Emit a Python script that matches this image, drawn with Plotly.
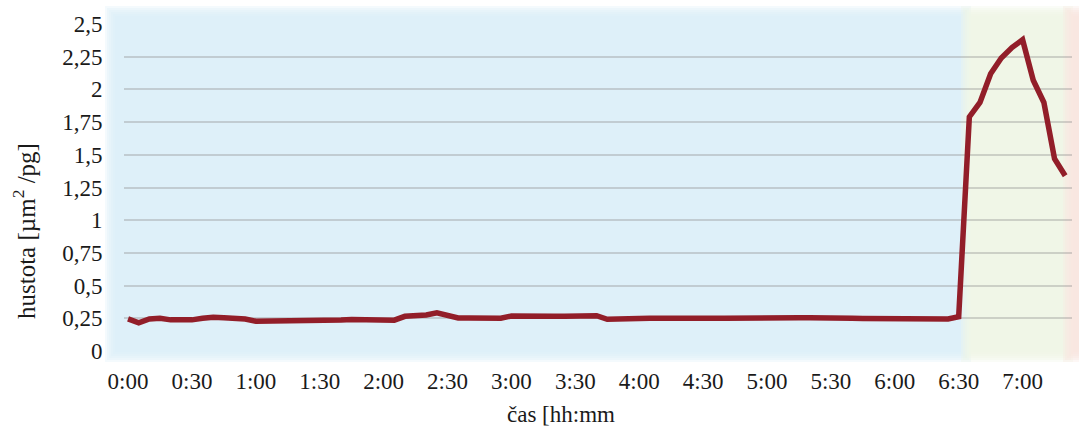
import plotly.graph_objects as go

# Sampling grid: one reading every 5 minutes from 0:00 to 7:20
minutes = list(range(0, 445, 5))

# Density readings [µm²/pg]
density = [
    0.245, 0.215, 0.245, 0.250, 0.238, 0.236, 0.238, 0.250, 0.258, 0.254,
    0.250, 0.245, 0.228, 0.228, 0.228, 0.230, 0.232, 0.235, 0.233, 0.238,
    0.237, 0.240, 0.240, 0.242, 0.242, 0.236, 0.265, 0.270, 0.276, 0.292,
    0.275, 0.252, 0.252, 0.252, 0.252, 0.250, 0.268, 0.270, 0.272, 0.270,
    0.266, 0.266, 0.266, 0.262, 0.270, 0.242, 0.246, 0.248, 0.250, 0.250,
    0.250, 0.248, 0.250, 0.250, 0.250, 0.250, 0.250, 0.252, 0.252, 0.250,
    0.252, 0.252, 0.252, 0.254, 0.254, 0.255, 0.252, 0.250, 0.250, 0.248,
    0.248, 0.245, 0.242, 0.244, 0.242, 0.240, 0.242, 0.245, 0.262, 1.790,
    1.900, 2.120, 2.240, 2.320, 2.380, 2.070, 1.900, 1.470, 1.340,
]

# Axis ticks
x_tick_minutes = [0, 30, 60, 90, 120, 150, 180, 210, 240, 270, 300, 330, 360, 390, 420]
x_tick_labels = ["0:00", "0:30", "1:00", "1:30", "2:00", "2:30", "3:00", "3:30",
                 "4:00", "4:30", "5:00", "5:30", "6:00", "6:30", "7:00"]
y_tick_values = [0, 0.25, 0.5, 0.75, 1, 1.25, 1.5, 1.75, 2, 2.25, 2.5]
y_tick_labels = ["0", "0,25", "0,5", "0,75", "1", "1,25", "1,5", "1,75", "2", "2,25", "2,5"]

W, H = 1079, 432
L, R, T, B = 124, 7, 24, 81
PW, PH = W - L - R, H - T - B


def px_x(p):
    return (p - L) / PW


def px_y(p):
    return (H - B - p) / PH


# Soft-edged background phases (pixel extents) and their colours
phases = [
    (110, 966, (217, 240, 249)),
    (966, 1068, (237, 245, 228)),
    (1068, 1085, (249, 228, 221)),
]
band_top, band_bottom = 11, 357

shapes = []
layers, step, alpha = 6, 2, 0.30
for x0, x1, (r, g, b) in phases:
    for i in range(layers):
        d = i * step
        shapes.append(dict(
            type="rect", xref="paper", yref="paper", layer="below",
            x0=px_x(x0 + d - 5), x1=px_x(x1 - d + 5),
            y0=px_y(band_bottom - d + 5), y1=px_y(band_top + d - 5),
            line=dict(width=0), fillcolor=f"rgba({r},{g},{b},{alpha})",
        ))

fig = go.Figure()
fig.add_trace(go.Scatter(
    x=minutes, y=density, mode="lines",
    line=dict(color="#921e29", width=5.5, shape="linear"),
    hoverinfo="skip", showlegend=False,
))

font_family = "'Liberation Serif', 'Times New Roman', Times, serif"
text_color = "#1a1a1a"
fig.update_layout(
    width=W, height=H,
    margin=dict(l=L, r=R, t=T, b=B, pad=0),
    paper_bgcolor="white", plot_bgcolor="rgba(0,0,0,0)",
    font=dict(family=font_family, size=23, color=text_color),
    shapes=shapes,
    xaxis=dict(
        range=[-1.9, 443.2], tickmode="array",
        tickvals=x_tick_minutes, ticktext=x_tick_labels,
        showgrid=False, zeroline=False, showline=False,
        ticks="outside", ticklen=9, tickcolor="rgba(0,0,0,0)",
    ),
    yaxis=dict(
        range=[0, 2.5], tickmode="array",
        tickvals=y_tick_values, ticktext=y_tick_labels,
        showgrid=True, gridcolor="rgba(140,140,140,0.36)", gridwidth=2,
        zeroline=False, showline=False,
        ticks="outside", ticklen=16, tickcolor="rgba(0,0,0,0)",
    ),
    annotations=[
        dict(text="hustota [µm<sup>2</sup> /pg]", xref="paper", yref="paper",
             x=px_x(24), y=px_y(231), textangle=-90, showarrow=False,
             xanchor="center", yanchor="middle",
             font=dict(family=font_family, size=25, color=text_color)),
        dict(text="čas [hh:mm", xref="paper", yref="paper",
             x=px_x(561), y=px_y(414), showarrow=False,
             xanchor="center", yanchor="middle",
             font=dict(family=font_family, size=23, color=text_color)),
    ],
)

fig.write_html("out.html")
